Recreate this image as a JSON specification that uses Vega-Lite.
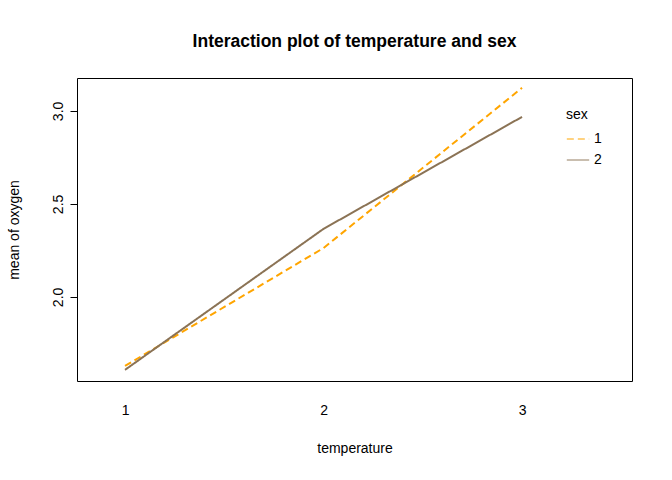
{
  "$schema": "https://vega.github.io/schema/vega-lite/v6.json",
  "width": 555,
  "height": 303,
  "autosize": "none",
  "padding": {"left": 77, "top": 78, "right": 40, "bottom": 99},
  "title": {"text": "Interaction plot of temperature and sex", "font": "Liberation Sans", "fontSize": 17.5, "fontWeight": "bold", "color": "black", "offset": 28},
  "data": {"values": [
    {"temperature": 1, "sex": "1", "oxygen": 1.629},
    {"temperature": 2, "sex": "1", "oxygen": 2.263},
    {"temperature": 3, "sex": "1", "oxygen": 3.124},
    {"temperature": 1, "sex": "2", "oxygen": 1.608},
    {"temperature": 2, "sex": "2", "oxygen": 2.366},
    {"temperature": 3, "sex": "2", "oxygen": 2.968}
  ]},
  "mark": {"type": "line", "strokeWidth": 2},
  "encoding": {
    "x": {"field": "temperature", "type": "quantitative", "scale": {"domain": [0.758, 3.554], "nice": false, "zero": false},
      "axis": {"values": [1, 2, 3], "title": "temperature", "grid": false, "domain": false, "ticks": false, "labelPadding": 22, "titlePadding": 24, "format": "d"}},
    "y": {"field": "oxygen", "type": "quantitative", "scale": {"domain": [1.548, 3.177], "nice": false, "zero": false},
      "axis": {"values": [2.0, 2.5, 3.0], "format": ".1f", "title": "mean of  oxygen", "grid": false, "domain": false, "tickSize": 7, "tickColor": "black", "labelAngle": -90, "labelAlign": "center", "labelBaseline": "bottom", "labelPadding": 5, "titlePadding": 30}},
    "color": {"field": "sex", "type": "nominal", "scale": {"domain": ["1", "2"], "range": ["orange", "#8b7355"]},
      "legend": {"orient": "top-right", "title": "sex", "symbolType": "stroke", "symbolStrokeWidth": 1, "symbolSize": 500, "labelFontSize": 14, "titleFontSize": 14, "titleFontWeight": "normal", "offset": 30,
        "encode": {"symbols": {"enter": {"stroke": {"signal": "datum.value == '1' ? '#aaaaaa' : '#8b7355'"}}, "update": {"stroke": {"signal": "datum.value == '1' ? '#aaaaaa' : '#8b7355'"}, "strokeDash": {"signal": "datum.value == '1' ? [4,3] : [1,0]"}}}}}},
    "strokeDash": {"field": "sex", "type": "nominal", "scale": {"domain": ["1", "2"], "range": [[7, 4], [1, 0]]}, "legend": null}
  },
  "config": {
    "view": {"stroke": "black", "strokeWidth": 1},
    "font": "Liberation Sans",
    "axis": {"labelFontSize": 14, "titleFontSize": 14, "titleFontWeight": "normal", "labelColor": "black", "titleColor": "black"},
    "legend": {"labelColor": "black", "titleColor": "black"}
  }
}
